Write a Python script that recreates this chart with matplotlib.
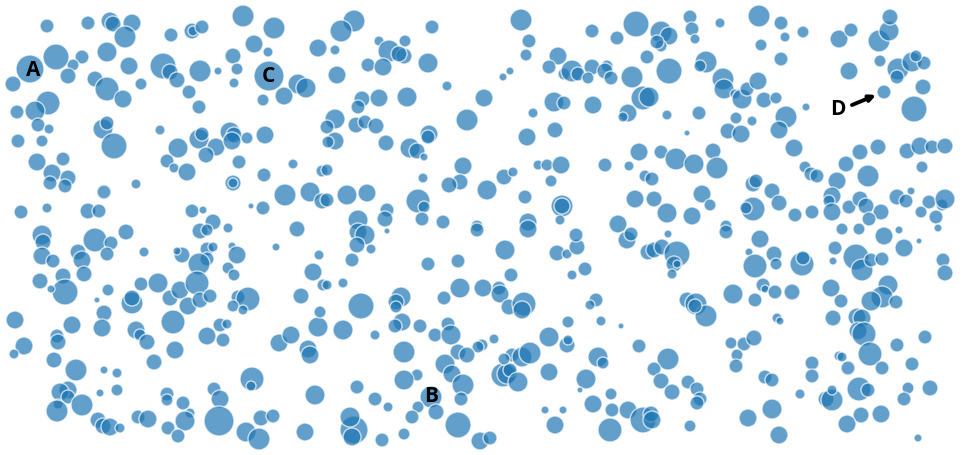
import matplotlib
matplotlib.use("Agg")
import matplotlib.pyplot as plt

# bubble centres (x, y in chart units; y grows downward) and radii
pts = [
# region top-left
(47,27,7),(88,24,7),(110,22,9),(113,25,8),(132,24,9),(125,38,11),(107,53,10),(82,58,7),(73,66,6),(56,58,13),
(30,70,14),(13,85,8),(68,77,8),(95,80,8),(107,90,12),(123,100,9),(129,67,9),(141,85,6),(163,67,13),(170,73,8),
(177,81,8),(189,93,7),(199,108,7),(171,36,7),(192,32,8),(193,32,5),(202,28,7),(200,72,11),(218,72,4),(233,57,8),
(237,70,6),(234,84,5),(243,17,11),(274,29,11),(254,45,9),(268,53,5),(269,77,15),(298,85,10),(306,89,10),(284,97,9),
(263,101,6),(318,49,9),(48,104,12),(35,112,10),(17,113,7),(38,126,7),(49,130,5),(18,142,7),(42,142,6),(103,130,10),
(107,124,7),(114,147,13),(160,131,5),(37,163,9),(63,160,7),(52,174,9),(68,179,8),(50,184,7),(65,187,7),(136,185,5),
(104,193,7),(178,149,10),(167,162,7),(174,169,5),(187,173,9),(199,140,10),(202,135,7),(216,148,9),(206,156,8),
(230,133,10),(234,136,8),(232,142,9),(247,139,6),(265,136,9),(239,163,7),(233,184,8),(233,184,5),(264,176,7),
(293,165,5),(285,196,11),(310,193,10),(322,202,8),(322,172,6),(21,213,7),(47,209,5),(88,212,8),(99,212,7),
(192,212,7),(203,211,4),(251,207,3),(263,209,7),(213,223,8),
# region top-middle
(354,22,11),(341,32,11),(432,28,7),(521,21,11),(529,42,7),(526,56,6),(592,32,7),(617,39,7),(636,25,13),(335,51,5),
(379,42,5),(389,52,11),(405,42,6),(404,57,8),(399,55,8),(428,64,10),(368,66,7),(383,68,9),(337,76,9),(447,87,5),
(510,72,4),(503,78,4),(558,57,9),(549,68,7),(564,75,6),(572,72,11),(578,75,7),(592,68,8),(588,79,6),(607,67,6),
(605,72,8),(611,79,7),(632,78,11),(643,99,12),(647,58,7),(362,100,8),(379,99,9),(358,108,7),(407,98,10),(484,99,9),
(554,103,10),(564,104,7),(593,106,9),(628,114,9),(623,118,5),(533,114,5),(467,121,11),(335,120,10),(327,128,7),
(356,126,8),(365,123,7),(376,127,8),(386,144,8),(410,149,10),(417,152,8),(429,135,9),(428,138,7),(424,158,4),
(335,142,9),(328,143,6),(527,138,9),(555,131,8),(538,166,5),(547,166,6),(561,166,9),(605,166,7),(629,167,5),
(639,153,9),(645,177,6),(327,171,6),(463,167,9),(460,183,8),(449,186,8),(423,179,5),(504,178,8),(513,173,5),
(487,191,10),(525,198,7),(551,182,6),(347,196,10),(367,194,9),(327,201,7),(418,202,12),(424,208,6),(562,207,11),
(562,207,8),(560,221,5),(635,200,9),(358,221,10),(387,211,7),(385,220,8),(422,220,7),(443,223,7),(477,227,6),
(528,223,9),(618,225,9),
# region top-right
(690,18,7),(692,30,7),(695,40,5),(661,33,11),(669,37,9),(661,47,6),(657,43,7),(720,24,5),(759,17,11),(781,24,7),
(785,38,5),(803,33,6),(761,46,6),(781,60,7),(839,40,9),(851,31,7),(879,42,11),(889,32,10),(890,18,8),(880,62,6),
(849,72,9),(898,70,11),(897,78,7),(912,63,10),(924,64,7),(916,57,6),(923,88,8),(914,110,13),(884,93,7),(806,108,4),
(649,98,10),(669,72,13),(706,63,11),(700,67,6),(723,80,11),(724,90,10),(735,95,5),(742,100,10),(747,90,7),(758,82,9),
(764,101,8),(776,99,6),(786,118,11),(779,131,9),(736,119,6),(752,122,5),(728,132,8),(741,135,9),(699,114,7),
(667,116,5),(687,134,3),(794,149,9),(661,153,7),(676,160,11),(694,165,10),(713,152,8),(717,169,11),(652,180,7),
(654,200,8),(667,214,10),(692,217,9),(702,195,9),(710,206,6),(753,185,8),(756,182,7),(753,210,12),(746,209,6),
(772,192,8),(779,204,8),(795,216,7),(812,213,7),(726,227,6),(805,168,6),(811,175,7),(817,177,7),(837,182,9),
(832,197,9),(829,202,6),(846,165,8),(860,153,8),(878,148,8),(868,177,11),(849,208,7),(832,213,9),(860,200,8),
(866,207,8),(881,213,8),(869,220,7),(907,152,8),(920,147,9),(932,148,7),(945,147,8),(922,168,6),(897,198,8),
(911,192,4),(906,202,7),(929,203,7),(942,206,6),(945,200,10),(921,213,6),(936,218,7),
# region bottom-left
(42,236,10),(43,243,8),(95,241,12),(111,244,7),(126,233,8),(42,257,9),(53,262,7),(78,253,8),(82,261,9),(84,275,8),
(107,255,7),(144,253,5),(182,256,8),(177,252,4),(207,250,7),(207,260,7),(199,265,11),(213,248,5),(232,247,4),
(237,256,9),(228,269,6),(234,276,6),(200,232,8),(207,231,6),(228,229,5),(297,230,8),(276,248,4),(319,256,5),
(313,273,9),(323,286,6),(40,282,8),(63,277,8),(65,293,13),(51,290,4),(108,291,6),(97,301,3),(141,285,7),(158,284,10),
(132,304,11),(132,299,8),(170,299,8),(180,291,9),(197,284,12),(188,307,9),(200,301,8),(210,297,7),(238,298,7),
(248,300,12),(233,307,6),(243,311,5),(301,297,8),(15,321,9),(72,326,9),(104,314,8),(102,329,9),(173,323,12),
(136,331,9),(140,336,6),(147,343,8),(57,337,7),(58,343,8),(24,347,9),(14,355,5),(54,361,8),(76,371,11),(104,371,4),
(117,374,5),(175,351,9),(154,363,8),(207,337,9),(220,326,7),(227,325,5),(223,341,7),(279,344,9),(291,336,9),
(308,350,9),(310,356,9),(318,328,10),(320,313,6),(315,396,10),(252,380,12),(251,387,5),(214,390,7),(220,400,9),
(219,422,15),(167,395,7),(167,401,6),(183,404,7),(190,414,5),(185,422,10),(168,429,7),(178,437,7),(138,418,7),
(148,420,9),(100,394,4),(117,391,6),(68,391,9),(60,393,9),(68,398,7),(58,405,5),(57,412,11),(82,406,11),(98,421,8),
(103,427,8),(110,428,9),(120,429,5),(261,419,8),(273,417,7),(246,433,10),(259,440,11),(305,433,9),
# region bottom-middle
(358,233,9),(365,236,10),(357,246,8),(371,250,5),(352,261,7),(387,232,3),(477,231,7),(528,230,9),(505,251,10),
(428,265,7),(458,262,7),(511,276,7),(557,254,8),(567,255,5),(577,248,8),(576,236,7),(585,270,7),(572,276,5),
(627,241,9),(631,235,7),(648,253,8),(327,286,5),(343,284,5),(361,307,13),(401,298,10),(396,303,8),(396,308,6),
(444,299,7),(460,289,10),(483,289,9),(499,289,7),(500,295,9),(509,308,8),(524,305,12),(522,311,9),(596,301,7),
(590,306,5),(343,331,10),(375,336,5),(402,323,9),(395,327,7),(420,327,7),(435,336,7),(448,325,7),(451,336,10),
(494,340,5),(482,346,6),(478,348,6),(404,353,11),(458,353,8),(467,356,8),(445,365,10),(452,375,9),(463,386,11),
(417,376,6),(404,381,10),(431,398,11),(418,408,6),(436,413,8),(461,400,7),(412,418,7),(458,426,13),(480,442,9),
(490,439,7),(404,435,6),(382,441,7),(375,400,7),(388,408,5),(357,388,7),(354,431,14),(350,418,10),(352,438,9),
(503,376,12),(507,375,10),(510,371,7),(512,356,7),(522,358,10),(530,354,11),(518,383,10),(504,360,6),(549,373,9),
(549,338,10),(568,323,6),(567,346,8),(568,341,5),(601,322,5),(621,327,3),(598,358,10),(603,364,6),(586,380,10),
(580,391,3),(593,405,9),(611,395,6),(612,411,7),(628,411,9),(610,431,12),(643,421,13),(639,347,7),(555,426,9),
(545,411,4),(563,411,4),
# region bottom-right
(726,233,7),(760,240,9),(668,235,4),(654,251,8),(662,248,8),(677,255,13),(674,265,8),(677,265,4),(672,275,5),
(749,253,4),(774,255,8),(776,265,6),(755,267,12),(802,265,12),(803,259,7),(763,286,7),(765,290,4),(775,293,7),
(792,293,8),(755,301,7),(733,295,10),(687,301,8),(696,305,11),(706,317,11),(695,307,7),(777,319,5),(780,322,4),
(731,344,6),(744,345,7),(754,339,8),(737,356,6),(736,367,7),(668,360,11),(654,370,7),(661,382,8),(672,393,8),
(688,383,7),(697,390,7),(700,400,7),(697,404,7),(651,415,8),(652,421,9),(690,427,6),(765,378,7),(772,381,7),
(748,419,9),(772,410,10),(779,436,9),(800,395,5),(812,364,7),(812,377,7),(826,400,8),(832,401,11),(831,289,9),
(841,302,7),(833,319,8),(856,258,13),(862,271,11),(871,261,7),(882,260,7),(904,249,9),(835,249,7),(833,262,4),
(842,230,6),(859,230,6),(884,237,9),(899,231,4),(919,242,3),(938,229,4),(943,261,7),(945,274,8),(888,286,10),
(882,298,11),(896,303,7),(871,302,10),(857,318,9),(862,319,9),(858,332,9),(864,335,12),(870,355,12),(897,346,7),
(882,369,7),(925,338,7),(912,365,7),(839,357,5),(842,358,5),(848,369,7),(859,390,12),(868,391,7),(832,391,5),
(908,389,6),(904,400,7),(930,389,8),(861,416,8),(881,415,9),(847,425,9),(918,439,4),
]
x_vals = [p[0] for p in pts]
y_vals = [p[1] for p in pts]
radius = [p[2] for p in pts]

label_text = ["A", "B", "C", "D"]
label_x = [33, 431, 268, 838]
label_y = [71, 397, 77, 110]

W, H, DPI = 974, 456, 100
fig = plt.figure(figsize=(W / DPI, H / DPI), dpi=DPI)
ax = fig.add_axes([0, 0, 1, 1])
ax.set_xlim(0, W)
ax.set_ylim(H, 0)
ax.axis("off")

# convert pixel radius to marker area in points^2
sizes = [(2 * r * 72 / DPI) ** 2 for r in radius]
ax.scatter(x_vals, y_vals, s=sizes, color="#1f77b4", alpha=0.7,
           edgecolors="white", linewidths=1.0)

for t, lx, ly in zip(label_text, label_x, label_y):
    ax.text(lx, ly, t, ha="center", va="center", fontsize=15,
            fontweight="bold", family=["Open Sans", "DejaVu Sans"], color="black")

ax.annotate("", xy=(876, 96), xytext=(852, 106),
            arrowprops=dict(arrowstyle="-|>", lw=2.8, color="black",
                            mutation_scale=9, shrinkA=0, shrinkB=0))

fig.savefig("out.png", dpi=DPI)
